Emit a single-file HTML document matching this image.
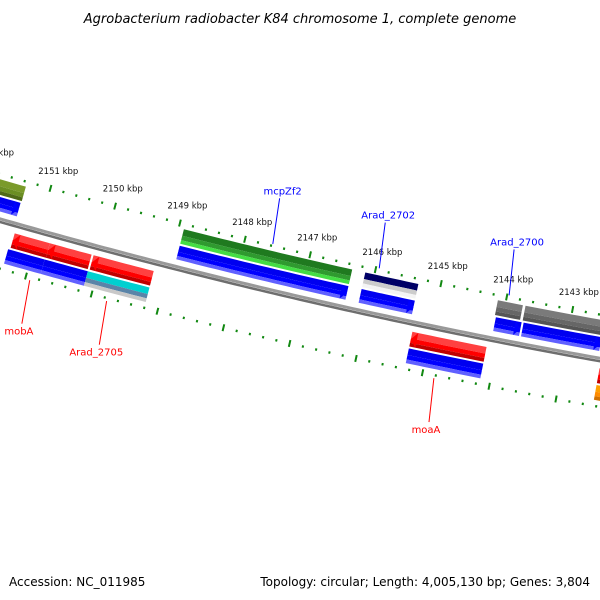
<!DOCTYPE html>
<html><head><meta charset="utf-8"><style>
html,body{margin:0;padding:0;background:#fff;}
svg{display:block;font-family:"DejaVu Sans","Liberation Sans",sans-serif;}
</style></head><body>
<svg id="map" width="600" height="600" viewBox="0 0 600 600">
<text x="300" y="23" text-anchor="middle" font-style="italic" font-size="13" fill="#000">Agrobacterium radiobacter K84 chromosome 1, complete genome</text>
<text x="9" y="586" font-size="12" fill="#000">Accession: NC_011985</text>
<text x="590" y="586" text-anchor="end" font-size="12" fill="#000">Topology: circular; Length: 4,005,130 bp; Genes: 3,804</text>
<g id="layer"></g>
</svg>
<script>
// ---- data ----
var tickKbp = [2152, 2151, 2150, 2149, 2148, 2147, 2146, 2145, 2144, 2143, 2142];
var tickLabels = ["2152 kbp","2151 kbp","2150 kbp","2149 kbp","2148 kbp","2147 kbp","2146 kbp","2145 kbp","2144 kbp","2143 kbp","2142 kbp"];
var featStart = [2152.2, 2152.2, 2148.92, 2148.92, 2146.14, 2146.14, 2144.12, 2143.70, 2144.10, 2143.68, 2151.33, 2150.79, 2150.12, 2151.36, 2150.80, 2150.14, 2145.27, 2145.27, 2142.45, 2142.45];
var featEnd   = [2151.36, 2151.37, 2146.34, 2146.34, 2145.33, 2145.33, 2143.74, 2142.0, 2143.71, 2142.50, 2150.79, 2150.15, 2149.20, 2150.80, 2150.14, 2149.20, 2144.15, 2144.15, 2142.0, 2142.0];
var featRow   = [0, 1, 0, 1, 0, 1, 0, 0, 1, 1, 2, 2, 2, 3, 3, 3, 2, 3, 2, 3];
var featArrow = [0, 1, 0, 1, 0, 1, 0, 0, 1, 1, -1, -1, -1, 0, 0, 0, -1, 0, -1, 0];
var featColor = ["olive","blue","green","blue","navy","blue","gray","gray","blue","blue","red","red","red","blue","blue","cyan","red","blue","red","orange"];
var geneNames = ["mcpZf2","Arad_2702","Arad_2700","mobA","Arad_2705","moaA"];
var genePos   = [2147.58, 2145.95, 2143.97, 2150.93, 2149.76, 2144.82];
var geneSide  = [1, 1, 1, -1, -1, -1];

// ---- geometry ----
var CX = 1666, CY = -5590, R0 = 6000;
function ang(p){ return (103.7 + (p - 2148) * 0.64) * Math.PI / 180; }
function pt(p, d){ var a = ang(p), r = R0 + d; return [CX + r*Math.cos(a), CY + r*Math.sin(a)]; }
function pUnits(px){ return px / 67; }
var NS = "http://www.w3.org/2000/svg";
var layer = document.getElementById("layer");
function mk(tag, attrs){ var e = document.createElementNS(NS, tag); for (var k in attrs) e.setAttribute(k, attrs[k]); layer.appendChild(e); return e; }
function f(v){ return v.toFixed(2); }
function arcPts(p1, p2, d){ var s = [], n = Math.max(2, Math.ceil(Math.abs(p2-p1)/0.1)); for (var i=0;i<=n;i++){ s.push(pt(p1+(p2-p1)*i/n, d)); } return s; }
function polyStr(a){ return a.map(function(q){return f(q[0])+","+f(q[1]);}).join(" "); }

var rows = [[5,20],[22,36],[53,68],[70,85]];
var palette = {
  blue:["#0000f0","#0000ff","#6060ff"], red:["#ff4040","#ff0000","#c00000"],
  green:["#1f7a1f","#2f9a2f","#44dd44"], olive:["#7a9a2a","#6b8e23","#4f6a18"],
  gray:["#7a7a7a","#666666","#555555"], navy:["#000066","#cccccc","#f4f4f4"],
  cyan:["#00d0d0","#5a84a8","#c8c8c8"], orange:["#ffa000","#ff8c00","#d07000"]
};

// backbone
var bb = mk("polyline",{points:polyStr(arcPts(2152.5,2141.5,43)),fill:"none",stroke:"#999999","stroke-width":"3"});


var bb2 = mk("polyline",{points:polyStr(arcPts(2152.5,2141.5,46)),fill:"none",stroke:"#6e6e6e","stroke-width":"2.5"});



// ticks (outer d=0, inner d=91)
[0, 91].forEach(function(ring){
  for (var p = 2152.6; p >= 2141.4; p = Math.round((p-0.2)*10)/10){
    var major = Math.abs(p - Math.round(p)) < 0.01;
    var len = major ? 3.5 : 1.2;
    var a = pt(p, ring - len), b = pt(p, ring + len);
    var t = mk("line",{x1:f(a[0]),y1:f(a[1]),x2:f(b[0]),y2:f(b[1]),stroke:"#118811","stroke-width":major?"2":"2"});
    
    
  }
});
for (var i = 0; i < tickKbp.length; i++){
  var q = pt(tickKbp[i], -18);
  var tl = mk("text",{x:f(q[0]+3),y:f(q[1]+3),"text-anchor":"middle","font-size":"8.5",fill:"#111"});
  tl.textContent = tickLabels[i];
  
  
}

// features
function band(p1,p2,d1,d2,arrow){
  var out = [];
  var head = pUnits(6);
  if (arrow === 1){ // tip at p2 (increasing x)
    var pb = p2 + head;
    out = arcPts(p1,pb,d1).concat([pt(p2,(d1+d2)/2)]).concat(arcPts(pb,p1,d2));
  } else if (arrow === -1){ // tip at p1 (left)
    var pa = p1 - head;
    out = [pt(p1,(d1+d2)/2)].concat(arcPts(pa,p2,d1)).concat(arcPts(p2,pa,d2));
  } else {
    out = arcPts(p1,p2,d1).concat(arcPts(p2,p1,d2));
  }
  return polyStr(out);
}
for (var j = 0; j < featStart.length; j++){
  var r = rows[featRow[j]], c = palette[featColor[j]];
  var d1 = r[0], d2 = r[1], h = d2 - d1;
  var g = document.createElementNS(NS,"g"); layer.appendChild(g);
  
  
  var parts = [[d1, d1 + h*0.45, c[0]], [d1 + h*0.45, d1 + h*0.75, c[1]], [d1 + h*0.75, d2, c[2]]];
  parts.forEach(function(pp){
    var pg = document.createElementNS(NS,"polygon");
    // arrow shape clipped per part: use full shape for simplicity with band limits
    pg.setAttribute("points", band(featStart[j], featEnd[j], pp[0], pp[1], 0));
    pg.setAttribute("fill", pp[2]);
    g.appendChild(pg);
  });
  if (featArrow[j] !== 0){
    var tip = featArrow[j] === 1 ? featEnd[j] : featStart[j];
    var base = featArrow[j] === 1 ? tip + pUnits(6) : tip - pUnits(6);
    var ah = document.createElementNS(NS,"polygon");
    ah.setAttribute("points", polyStr([pt(base,d1), pt(tip,(d1+d2)/2), pt(base,d2)]));
    ah.setAttribute("fill", c[1]);
    g.appendChild(ah);
    // trim body under arrow head
    var wh = document.createElementNS(NS,"polygon");
    var far = featArrow[j] === 1 ? tip - pUnits(1) : tip + pUnits(1);
    wh.setAttribute("points", polyStr([pt(far,d1-0.5), pt(tip,(d1+d2)/2), pt(far,d2+0.5), pt(far, d2+0.5)]));
    wh.setAttribute("fill", "none");
    g.appendChild(wh);
  }
}

// gene labels
for (var k = 0; k < geneNames.length; k++){
  var outer = geneSide[k] === 1;
  var col = outer ? "#0000ff" : "#ff0000";
  var a0 = outer ? pt(genePos[k], -2) : pt(genePos[k], 94);
  var a1 = outer ? pt(genePos[k] - pUnits(-4), -48) : pt(genePos[k] + pUnits(-4), 138);
  var ln = mk("line",{x1:f(a0[0]),y1:f(a0[1]),x2:f(a1[0]),y2:f(a1[1]),stroke:col,"stroke-width":"1"});
  
  
  var tx = mk("text",{x:f(a1[0]+(outer?3:-3)),y:f(outer? a1[1]-4 : a1[1]+11),"text-anchor":"middle","font-size":"10",fill:col});
  tx.textContent = geneNames[k];
  
  
}
</script>
</body></html>
